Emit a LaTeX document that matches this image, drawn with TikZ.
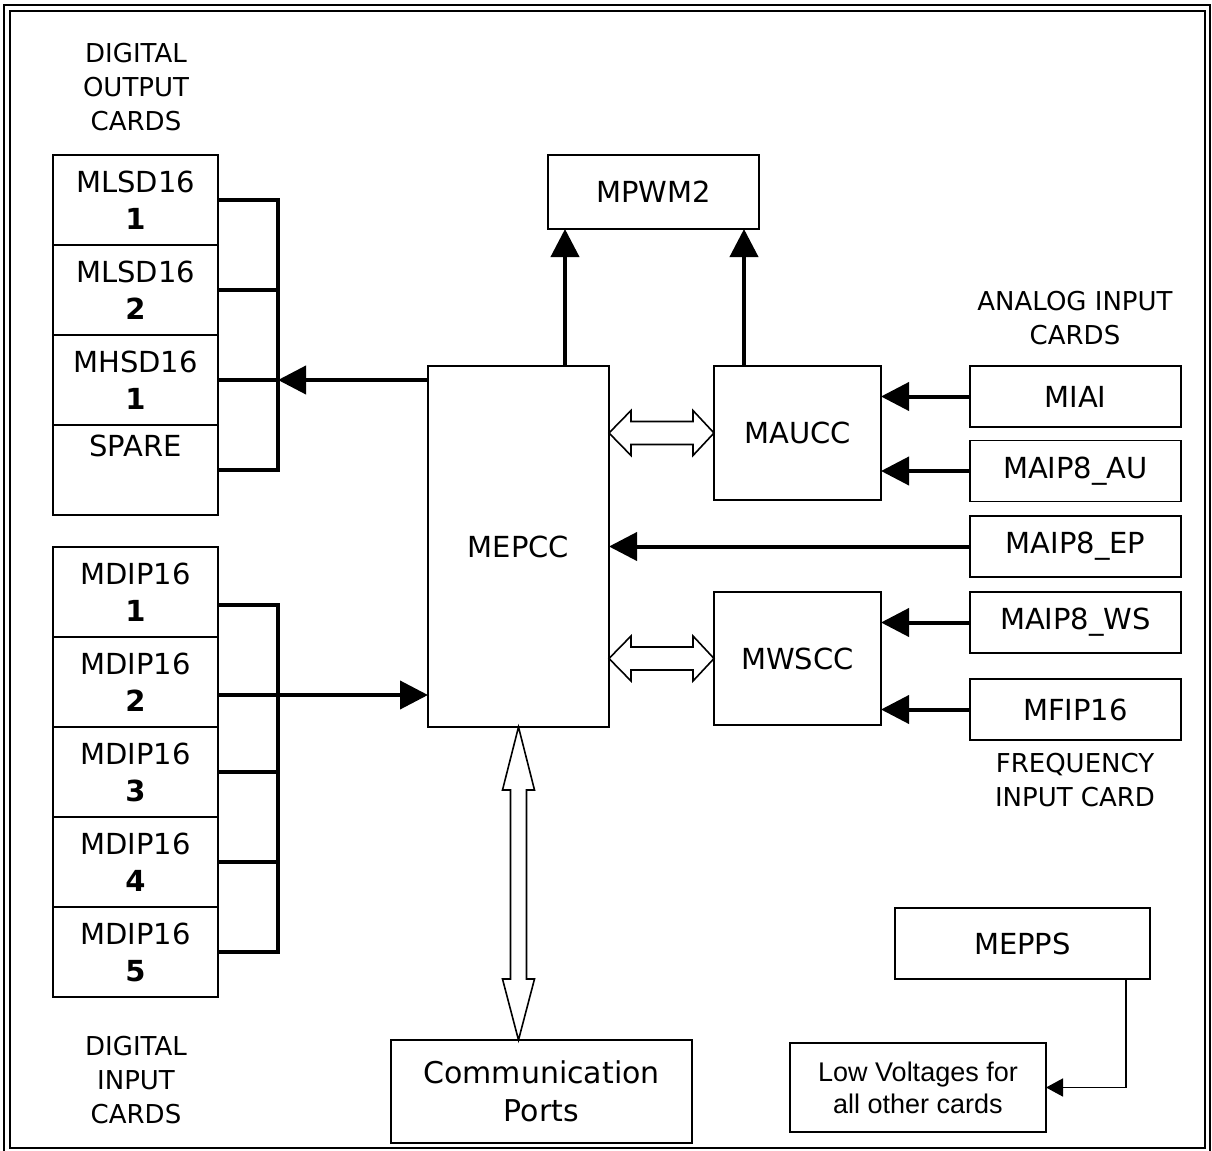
\documentclass[tikz,border=0pt]{standalone}
\usepackage{fontspec}
\setmainfont{DejaVu Sans}
\newfontfamily\arialfont{Liberation Sans}
\usetikzlibrary{positioning,arrows.meta,calc}
\begin{document}
\begin{tikzpicture}[x=0.5pt,y=-0.5pt,>={Triangle[length=14pt,width=14pt]},
    card/.style={draw,line width=0.8pt,outer sep=0pt,inner sep=0pt,align=center,
        font=\fontsize{14.5}{18.5}\selectfont},
    slot/.style={card,minimum width=82.5pt,minimum height=45pt},
    inbox/.style={card,minimum width=105.5pt,minimum height=30.5pt},
    lbl/.style={align=center,font=\fontsize{13}{17}\selectfont},
    bus/.style={line width=2pt},
    hollow/.style={draw,line width=0.8pt,fill=white,line join=miter}]
    \useasboundingbox (0,0) rectangle (1212,1151);
    \draw[line width=0.9pt] (4,1151) -- (4,5) -- (1210,5) -- (1210,1151);
    \draw[line width=0.9pt] (10,11) rectangle (1205,1148);
    % output cards
    \node[lbl] (outlbl) at (136,87) {DIGITAL\\OUTPUT\\CARDS};
    \node[slot] (mlsda) at (135.5,200) {MLSD16\\\textbf{1}};
    \node[slot,below=0pt of mlsda] (mlsdb) {MLSD16\\\textbf{2}};
    \node[slot,below=0pt of mlsdb] (mhsd) {MHSD16\\\textbf{1}};
    \node[slot,below=0pt of mhsd] (spare) {SPARE\\\strut};
    % input cards
    \node[slot] (mdipa) at (135.5,592) {MDIP16\\\textbf{1}};
    \node[slot,below=0pt of mdipa] (mdipb) {MDIP16\\\textbf{2}};
    \node[slot,below=0pt of mdipb] (mdipc) {MDIP16\\\textbf{3}};
    \node[slot,below=0pt of mdipc] (mdipd) {MDIP16\\\textbf{4}};
    \node[slot,below=0pt of mdipd] (mdipe) {MDIP16\\\textbf{5}};
    \node[lbl] (inlbl) at (136,1080) {DIGITAL\\INPUT\\CARDS};
    % controllers
    \node[card,minimum width=90.5pt,minimum height=180.5pt] (mepcc) at (518.5,546.5) {MEPCC};
    \node[card,minimum width=105.5pt,minimum height=37pt] (mpwm) at (653.5,192) {MPWM2};
    \node[card,minimum width=83.5pt,minimum height=67pt] (maucc) at (797.5,433) {MAUCC};
    \node[card,minimum width=83.5pt,minimum height=66.5pt] (mwscc) at (797.5,658.5) {MWSCC};
    \node[card,minimum width=150.5pt,minimum height=51.5pt,font=\fontsize{15}{19}\selectfont]
        (comm) at (541.5,1091.5) {Communication\\Ports};
    % analog inputs
    \node[lbl] (anlbl) at (1075,318) {ANALOG INPUT\\CARDS};
    \node[inbox] (miai) at (1075.5,396.5) {MIAI};
    \node[inbox] (maipau) at (1075.5,471) {MAIP8\_AU};
    \node[inbox] (maipep) at (1075.5,546.5) {MAIP8\_EP};
    \node[inbox] (maipws) at (1075.5,622.5) {MAIP8\_WS};
    \node[inbox] (mfip) at (1075.5,709.5) {MFIP16};
    \node[lbl] (frqlbl) at (1075,780) {FREQUENCY\\INPUT CARD};
    % power
    \node[card,minimum width=127.5pt,minimum height=35.5pt] (mepps) at (1022.5,943.5) {MEPPS};
    \node[card,minimum width=128pt,minimum height=44.5pt,font=\arialfont\fontsize{13.5}{16}\selectfont]
        (lowv) at (918,1087.5) {Low Voltages for\\all other cards};
    % output bus
    \draw[bus] (mlsda.east) -- ++(60,0) |- (spare.east);
    \draw[bus] (mlsdb.east) -- ++(60,0);
    \draw[bus] (mhsd.east) -- ++(60,0);
    \draw[bus,->] (mepcc.west |- mhsd.east) -- ([xshift=30pt]mhsd.east);
    % input bus
    \draw[bus] ([yshift=-6.5pt]mdipa.east) -- ++(60,0) |- (mdipe.east);
    \draw[bus] (mdipc.east) -- ++(60,0);
    \draw[bus] (mdipd.east) -- ++(60,0);
    \draw[bus,->] ([yshift=-6.5pt]mdipb.east) -- ([yshift=-6.5pt]mdipb.east -| mepcc.west);
    % to MPWM2
    \draw[bus,->] ([xshift=-22pt]mepcc.north east) -- ([xshift=-22pt]mepcc.north east |- mpwm.south);
    \draw[bus,->] ([xshift=15pt]maucc.north west) -- ([xshift=15pt]maucc.north west |- mpwm.south);
    % analog inputs
    \draw[bus,->] (miai.west) -- (miai.west -| maucc.east);
    \draw[bus,->] (maipau.west) -- (maipau.west -| maucc.east);
    \draw[bus,->] (maipep.west) -- (maipep.west -| mepcc.east);
    \draw[bus,->] (maipws.west) -- (maipws.west -| mwscc.east);
    \draw[bus,->] (mfip.west) -- (mfip.west -| mwscc.east);
    % data links
    \draw[hollow] (mepcc.east |- maucc.west) -- ++(22,-22.5) -- ++(0,11) -- ++(62,0) -- ++(0,-11)
        -- (maucc.west) -- ++(-21,22.5) -- ++(0,-11) -- ++(-62,0) -- ++(0,11) -- cycle;
    \draw[hollow] (mepcc.east |- mwscc.west) -- ++(22,-22.5) -- ++(0,11) -- ++(62,0) -- ++(0,-11)
        -- (mwscc.west) -- ++(-21,22.5) -- ++(0,-11) -- ++(-62,0) -- ++(0,11) -- cycle;
    \draw[hollow] (mepcc.south) -- ++(-16,63) -- ++(8,0) -- ++(0,189) -- ++(-8,0)
        -- (mepcc.south |- comm.north) -- ++(16,-61) -- ++(-8,0) -- ++(0,-189) -- ++(8,0) -- cycle;
    % supply
    \draw[line width=0.8pt,-{Triangle[length=8.5pt,width=9pt]}] ([xshift=51.75pt]mepps.south) |- (lowv.east);
\end{tikzpicture}
\end{document}
